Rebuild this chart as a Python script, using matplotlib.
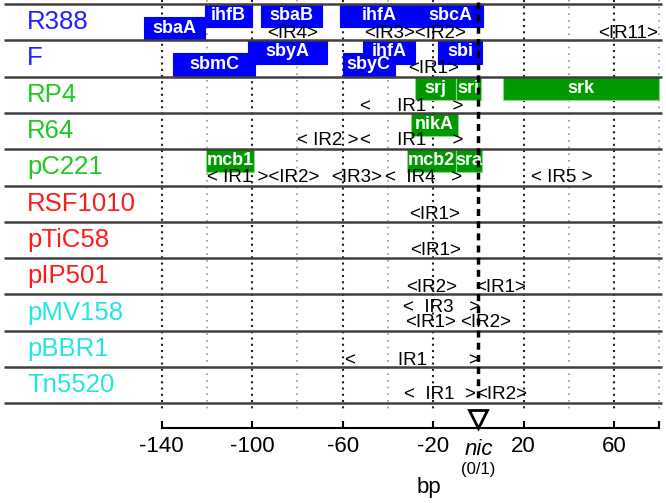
import matplotlib
matplotlib.use('Agg')
import matplotlib.pyplot as plt
from matplotlib.patches import Rectangle

plt.rcParams['font.family'] = ['Liberation Sans', 'DejaVu Sans']

# plasmid rows, top to bottom
plasmids = ['R388', 'F', 'RP4', 'R64', 'pC221', 'RSF1010', 'pTiC58',
            'pIP501', 'pMV158', 'pBBR1', 'Tn5520']
plasmid_colors = ['#2020ff', '#2020ff', '#20c820', '#20c820', '#20c820',
                  '#ff1a1a', '#ff1a1a', '#ff1a1a', '#22e5e5', '#22e5e5', '#22e5e5']

# binding sites (bp relative to nic)
gene_row = [0, 0, 0, 0, 0, 1, 1, 1, 1, 1, 2, 2, 2, 3, 4, 4, 4]
gene_name = ['sbaA', 'ihfB', 'sbaB', 'ihfA', 'sbcA',
             'sbmC', 'sbyA', 'sbyC', 'ihfA', 'sbi',
             'srj', 'sri', 'srk', 'nikA', 'mcb1', 'mcb2', 'sra']
gene_start = [-147.6, -121, -96, -61, -27,
              -135, -101.8, -60, -51, -18,
              -28, -10, 11, -29.7, -120.4, -31.6, -9.9]
gene_end = [-121, -100, -69, -27, 2,
            -98.6, -67, -37, -28, 1.7,
            -10, 1, 80, -9, -99.1, -9.9, 1.5]
gene_lane = ['low', 'up', 'up', 'up', 'up',
             'low', 'up', 'low', 'up', 'up',
             'up', 'up', 'up', 'up', 'up', 'up', 'up']

# inverted repeats
ir_row = [0, 0, 0, 1, 2, 3, 3, 4, 4, 4, 4, 5, 6, 7, 7, 8, 8, 8, 9, 10, 10]
ir_text = ['<IR4>', '<IR3><IR2>', '<IR11>', '<IR1>', '<     IR1     >',
           '< IR2 >', '<     IR1     >', '< IR1 ><IR2>', '<IR3>', '<  IR4   >', '< IR5 >',
           '<IR1>', '<IR1>', '<IR2>', '<IR1>', '<  IR3   >', '<IR1>', '<IR2>',
           '<        IR1        >', '<  IR1  >', '<IR2>']
ir_center = [-82, -28, 66, -19.8, -29.3,
             -66.6, -29.5, -94.9, -54, -24.4, 36.8,
             -19.4, -18.9, -20.5, 9.6, -16.3, -21, 3,
             -29, -17, 10.3]
ir_level = [0.8, 0.8, 0.8, 0.79, 0.81, 0.75, 0.75, 0.79, 0.79, 0.79, 0.79,
            0.81, 0.78, 0.82, 0.82, 0.35, 0.77, 0.77, 0.81, 0.77, 0.77]

major_ticks = [-140, -100, -60, -20, 20, 60]
minor_ticks = [-120, -80, -40, 40, 80]

fig = plt.figure(figsize=(6.66, 5.03), dpi=100)
ax = fig.add_axes([0, 75 / 503, 1, 428 / 503])
ax.set_xlim(-211.4, 82.9)
ax.set_ylim(11.68, -0.11)

# grid
ax.vlines(major_ticks, -0.11, 11.25, colors='#222222', linestyles=(0, (1, 2)), lw=1.5, zorder=1)
ax.vlines(minor_ticks, -0.11, 11.25, colors='#9a9a9a', linestyles=(0, (1, 3)), lw=1.2, zorder=1)
ax.hlines(range(len(plasmids) + 1), -209.5, 81.3, colors='#404040', lw=1.8, zorder=3)

for i, (p, c) in enumerate(zip(plasmids, plasmid_colors)):
    ax.text(-199.4, i + 0.5, p, color=c, fontsize=18.5, ha='left', va='center')

box_h = 0.64
for r, n, s, e, lane in zip(gene_row, gene_name, gene_start, gene_end, gene_lane):
    fc = '#0000ff' if r < 2 else '#009900'
    ec = fc if r < 2 else '#8ad88a'
    y0 = r if lane == 'up' else r + 1 - box_h
    ax.add_patch(Rectangle((s, y0), e - s, box_h, facecolor=fc, edgecolor=ec, lw=0.8, zorder=2))
for r, n, s, e, lane in zip(gene_row, gene_name, gene_start, gene_end, gene_lane):
    y0 = r if lane == 'up' else r + 1 - box_h
    ax.text((s + e) / 2, y0 + box_h / 2, n, color='white', fontsize=13, fontweight='bold',
            ha='center', va='center', zorder=4)

for r, t, x, lv in zip(ir_row, ir_text, ir_center, ir_level):
    ax.text(x, r + lv, t, fontsize=13.5, ha='center', va='center', zorder=4)

# nic site
ax.vlines(0, -0.05, 11.0, colors='black', linestyles=(0, (2, 1.5)), lw=2.5, zorder=5)
ax.plot(0, 11.42, marker='v', ms=13, mfc='white', mec='black', mew=2, clip_on=False, zorder=6)

for side in ['top', 'left', 'right']:
    ax.spines[side].set_visible(False)
ax.spines['bottom'].set_bounds(-140, 80)
ax.spines['bottom'].set_linewidth(1.5)
ax.set_yticks([])
ax.set_xticks(major_ticks + [80])
ax.set_xticklabels([str(t) for t in major_ticks] + [''])
ax.tick_params(axis='x', direction='in', length=5, width=1.5, pad=5.5, labelsize=16)

ax.annotate('nic', xy=(0, 0), xycoords=('data', 'axes fraction'), xytext=(0, -19.5),
            textcoords='offset points', ha='center', va='baseline', fontsize=16, style='italic')
ax.annotate('(0/1)', xy=(0, 0), xycoords=('data', 'axes fraction'), xytext=(0, -30),
            textcoords='offset points', ha='center', va='center', fontsize=12)
ax.annotate('bp', xy=(-21.8, 0), xycoords=('data', 'axes fraction'), xytext=(0, -42.5),
            textcoords='offset points', ha='center', va='center', fontsize=16)

fig.savefig('out.png', dpi=100)
